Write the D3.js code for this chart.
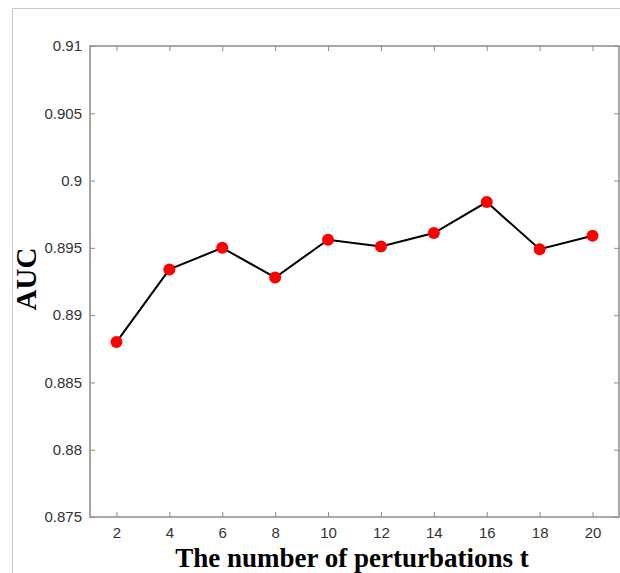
<!DOCTYPE html>
<html>
<head>
<meta charset="utf-8">
<script src="https://cdn.jsdelivr.net/npm/d3@7"></script>
<style>
  body { margin: 0; background: #fff; }
  svg { display: block; }
</style>
</head>
<body>
<div id="chart"></div>
<script>
// data
const tValues = [2, 4, 6, 8, 10, 12, 14, 16, 18, 20];
const aucValues = [0.888, 0.8934, 0.8950, 0.8928, 0.8956, 0.8951, 0.8961, 0.8984, 0.8949, 0.8959];
const xTicks = [2, 4, 6, 8, 10, 12, 14, 16, 18, 20];
const yTicks = [0.875, 0.88, 0.885, 0.89, 0.895, 0.9, 0.905, 0.91];

const W = 620, H = 573;
const plotL = 90, plotR = 619, plotT = 46, plotB = 517;

const svg = d3.select("#chart").append("svg")
    .attr("width", W)
    .attr("height", H);

// outer figure frame
svg.append("rect")
    .attr("x", 12.5).attr("y", 8.5)
    .attr("width", 640).attr("height", 600)
    .attr("fill", "#fff")
    .attr("stroke", "#c8c8c8")
    .attr("stroke-width", 1);

const x = d3.scaleLinear().domain([1, 21]).range([plotL, plotR]);
const y = d3.scaleLinear().domain([0.875, 0.91]).range([plotB, plotT]);

const axisColor = "#8c8c8c";
const tickLen = 5;

// box
svg.append("rect")
    .attr("x", plotL).attr("y", plotT)
    .attr("width", plotR - plotL).attr("height", plotB - plotT)
    .attr("fill", "none")
    .attr("stroke", axisColor)
    .attr("stroke-width", 1.5);

const fmt = d => String(+d.toFixed(3));

// bottom axis, ticks inside
const xAxis = svg.append("g")
    .attr("transform", `translate(0,${plotB})`)
    .call(d3.axisBottom(x).tickValues(xTicks).tickSizeInner(-tickLen).tickSizeOuter(0).tickPadding(10.5));
// left axis
const yAxis = svg.append("g")
    .attr("transform", `translate(${plotL},0)`)
    .call(d3.axisLeft(y).tickValues(yTicks).tickFormat(fmt).tickSizeInner(-tickLen).tickSizeOuter(0).tickPadding(8));
// top and right ticks, no labels
const xTop = svg.append("g")
    .attr("transform", `translate(0,${plotT})`)
    .call(d3.axisTop(x).tickValues(xTicks).tickFormat("").tickSizeInner(-tickLen).tickSizeOuter(0));
const yRight = svg.append("g")
    .attr("transform", `translate(${plotR},0)`)
    .call(d3.axisRight(y).tickValues(yTicks).tickFormat("").tickSizeInner(-tickLen).tickSizeOuter(0));

[xAxis, yAxis, xTop, yRight].forEach(g => {
  g.select(".domain").remove();
  g.selectAll(".tick line").attr("stroke", axisColor).attr("stroke-width", 1);
  g.selectAll(".tick text")
      .attr("fill", "#333")
      .style("font-family", "'Liberation Sans', Arial, sans-serif")
      .style("font-size", "15px");
});

// line
svg.append("path")
    .datum(tValues.map((t, i) => [t, aucValues[i]]))
    .attr("fill", "none")
    .attr("stroke", "#000")
    .attr("stroke-width", 2)
    .attr("d", d3.line().x(d => x(d[0])).y(d => y(d[1])));

// markers
svg.selectAll("circle.pt")
    .data(tValues.map((t, i) => [t, aucValues[i]]))
    .enter()
    .append("circle")
    .attr("class", "pt")
    .attr("cx", d => x(d[0]))
    .attr("cy", d => y(d[1]))
    .attr("r", 6)
    .attr("fill", "#ff0000");

// axis titles
svg.append("text")
    .attr("x", 352)
    .attr("y", 566.5)
    .attr("text-anchor", "middle")
    .style("font-family", "'Liberation Serif', 'Times New Roman', serif")
    .style("font-weight", "bold")
    .style("font-size", "27px")
    .text("The number of perturbations t");

svg.append("text")
    .attr("transform", "translate(36,279) rotate(-90)")
    .attr("text-anchor", "middle")
    .style("font-family", "'Liberation Serif', 'Times New Roman', serif")
    .style("font-weight", "bold")
    .style("font-size", "29px")
    .text("AUC");
</script>
</body>
</html>
